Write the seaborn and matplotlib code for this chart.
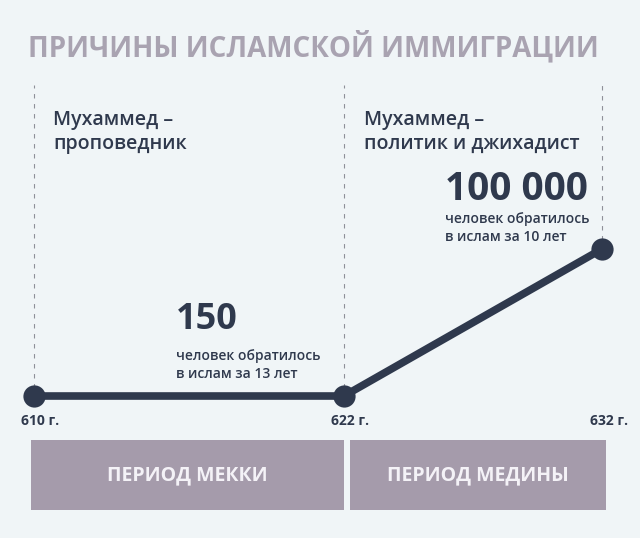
import matplotlib
matplotlib.use("Agg")
import matplotlib.pyplot as plt
import seaborn as sns
import pandas as pd

# ---- data ----
years = [610, 622, 632]
level = [0, 0, 1]                      # stylised growth level (not to scale)
year_labels = ["610 г.", "622 г.", "632 г."]
period_names = ["ПЕРИОД МЕККИ", "ПЕРИОД МЕДИНЫ"]
period_start = [610, 622]
period_end = [622, 632]
phase_titles = ["Мухаммед –\nпроповедник", "Мухаммед –\nполитик и джихадист"]
converts = ["150", "100 000"]
convert_notes = ["человек обратилось\nв ислам за 13 лет", "человек обратилось\nв ислам за 10 лет"]
title = "ПРИЧИНЫ ИСЛАМСКОЙ ИММИГРАЦИИ"

BG = "#f0f5f7"
DARK = "#2f394d"
MAUVE = "#a59bab"
TITLE_C = "#a9a3b1"

sns.set_theme(style="white")
plt.rcParams["font.family"] = ["Open Sans", "DejaVu Sans"]

fig = plt.figure(figsize=(6.4, 5.38), dpi=100, facecolor=BG)
ax = fig.add_axes([0, 0, 1, 1])
ax.set_facecolor(BG)
ax.set_xlim(608.68, 633.47)
ax.set_ylim(-0.966, 2.694)
ax.axis("off")

def py(p):  # pixel y -> axes fraction
    return 1 - p / 538

# dashed guides
for i, yr in enumerate(years):
    top = py(85)
    bottom = py(388) if level[i] == 0 else py(240)
    ax.axvline(yr, ymin=bottom, ymax=top, color="#8f9099", lw=0.8, ls=(0, (4, 5)))

df = pd.DataFrame({"year": years, "level": level})
sns.lineplot(data=df, x="year", y="level", ax=ax, color=DARK, lw=5.5,
             marker="o", markersize=16, markeredgewidth=0, legend=False, zorder=3)

# year labels
for yr, lab in zip(years, year_labels):
    ax.text(yr + 0.25, -0.17, lab, ha="center", va="center", fontsize=10,
            fontweight="bold", color=DARK)

xt = ax.get_xaxis_transform()

# period boxes
for s, e, name in zip(period_start, period_end, period_names):
    x0 = s - 0.12 if s == period_start[0] else s + 0.24
    x1 = e if e == period_end[0] else e + 0.16
    ax.axvspan(x0, x1, ymin=py(510), ymax=py(440), color=MAUVE, lw=0)
    ax.text((x0 + x1) / 2, 0.5 * (py(440) + py(510)), name, transform=xt,
            ha="center", va="center", fontsize=14, fontweight="bold", color="#f4f2f7")

# phase titles
ax.text(610.75, py(132), phase_titles[0], transform=xt,
        ha="left", va="center", fontsize=14, fontweight="semibold", color=DARK, linespacing=1.25)
ax.text(622.77, py(132), phase_titles[1], transform=xt,
        ha="left", va="center", fontsize=14, fontweight="semibold", color=DARK, linespacing=1.25)

# converts annotations
ax.text(615.5, py(320), converts[0], transform=xt,
        ha="left", va="center", fontsize=26, fontweight="bold", color=DARK)
ax.text(615.5, py(365), convert_notes[0], transform=xt,
        ha="left", va="center", fontsize=10, fontweight="semibold", color=DARK, linespacing=1.3)
ax.text(625.9, py(190), converts[1], transform=xt,
        ha="left", va="center", fontsize=28, fontweight="bold", color=DARK)
ax.text(625.9, py(228), convert_notes[1], transform=xt,
        ha="left", va="center", fontsize=10, fontweight="semibold", color=DARK, linespacing=1.3)

# title
fig.text(0.49, py(47), title, ha="center", va="center", fontsize=20,
         fontweight="bold", color=TITLE_C)

fig.savefig("out.png", dpi=100, facecolor=BG)
